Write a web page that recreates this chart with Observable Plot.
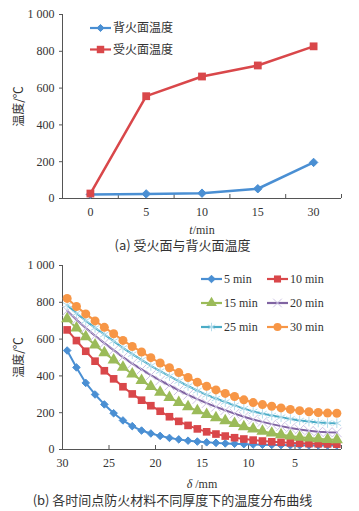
<!DOCTYPE html>
<html><head><meta charset="utf-8">
<script src="https://cdn.jsdelivr.net/npm/d3@7"></script>
<script src="https://cdn.jsdelivr.net/npm/@observablehq/plot@0.6"></script>
<style>
body{margin:0;background:#fff;}
#wrap{position:relative;width:359px;height:511px;overflow:hidden;background:#fff;}
.cap{font-family:"Noto Sans CJK SC";font-size:13px;color:#333;height:17px;line-height:17px;white-space:nowrap;text-align:center;}
#legend{position:absolute;left:0;top:0;pointer-events:none;}
svg{display:block;}
</style></head><body>
<div id="wrap">
<div id="a"></div>
<div class="cap" style="padding-left:6px">(a) 受火面与背火面温度</div>
<div id="b"></div>
<div class="cap" style="padding-right:14px">(b) 各时间点防火材料不同厚度下的温度分布曲线</div>
<svg id="legend" width="359" height="511"></svg>
</div>
<script>
// ---------- chart (a) data ----------
const tLabels = ["0", "5", "10", "15", "30"];
const backFace = [22, 25, 29, 53, 196];      // 背火面温度
const fireFace = [27, 556, 663, 723, 827];   // 受火面温度
const yTicks = [0, 200, 400, 600, 800, 1000];

// ---------- chart (b) data ----------
const delta = [29.5, 28.5, 27.5, 26.5, 25.5, 24.5, 23.5, 22.5, 21.5, 20.5,
               19.5, 18.5, 17.5, 16.5, 15.5, 14.5, 13.5, 12.5, 11.5, 10.5,
               9.5, 8.5, 7.5, 6.5, 5.5, 4.5, 3.5, 2.5, 1.5, 0.5];
const deltaTicks = [30, 25, 20, 15, 10, 5];
const deltaTickMarks = [30, 25, 20, 15, 10, 5, 0];
const min5  = [538, 446, 362, 299, 245, 197, 158, 127, 103, 87, 74, 63, 55, 48, 43, 39, 36, 33, 31, 29, 27, 26, 25, 24, 23, 23, 22, 22, 22, 22];
const min10 = [650, 592, 534, 480, 428, 384, 341, 302, 268, 238, 208, 178, 153, 131, 112, 96, 84, 73, 64, 57, 51, 46, 42, 39, 36, 34, 32, 31, 30, 29];
const min15 = [710, 660, 613, 568, 526, 486, 447, 410, 375, 342, 311, 282, 256, 232, 210, 190, 172, 156, 141, 124, 111, 99, 89, 80, 73, 67, 62, 58, 55, 53];
const min20 = [754, 705, 660, 618, 578, 540, 502, 467, 435, 404, 375, 348, 322, 297, 274, 252, 232, 213, 195, 178, 163, 150, 138, 127, 117, 109, 102, 97, 94, 93];
const min25 = [785, 740, 700, 661, 625, 589, 552, 518, 487, 455, 426, 399, 372, 345, 320, 297, 277, 258, 240, 222, 207, 195, 185, 176, 166, 158, 152, 147, 144, 143];
const min30 = [821, 777, 737, 699, 664, 629, 593, 560, 530, 499, 470, 444, 418, 391, 366, 344, 324, 305, 288, 270, 255, 244, 235, 226, 218, 211, 205, 201, 198, 197];
const seriesNames = ["5 min", "10 min", "15 min", "20 min", "25 min", "30 min"];

const BLUE = "#4a8fd3", RED = "#d9474a", GREEN = "#9bbb59", PURPLE = "#8064a2", CYAN = "#4bacc6", ORANGE = "#f79646";
const AXIS = "#555";
const fmtY = d => d === 1000 ? "1 000" : String(d);

const styleSvg = {fontFamily: "'Liberation Serif', 'Times New Roman', serif", fontSize: "12px", color: "#333", background: "transparent", overflow: "visible"};

// ---------- chart (a) ----------
const idx = tLabels.map((_, i) => i);
const bounds = [-0.5, 0.5, 1.5, 2.5, 3.5, 4.5];
const chartA = Plot.plot({
  width: 359, height: 236,
  marginLeft: 62, marginRight: 18, marginTop: 14, marginBottom: 38,
  style: styleSvg,
  x: {domain: [-0.5, 4.5], axis: null},
  y: {domain: [0, 1000], axis: null},
  marks: [
    Plot.ruleY([0], {stroke: AXIS, strokeWidth: 1}),
    Plot.ruleX([-0.5], {stroke: AXIS, strokeWidth: 1}),
    Plot.ruleX(bounds, {x: d => d, y1: 0, y2: 0, insetTop: -4, stroke: AXIS}),
    Plot.axisX({ticks: idx, tickFormat: i => tLabels[i], tickSize: 0, tickPadding: 9,
                label: "t/min", labelAnchor: "center", labelOffset: 35, labelArrow: "none"}),
    Plot.axisY({ticks: yTicks, tickFormat: fmtY, tickSize: 3, tickPadding: 5, stroke: AXIS,
                label: "温度/℃", labelAnchor: "center", labelOffset: 48, labelArrow: "none"}),
    Plot.line(backFace, {x: (d, i) => i, y: d => d, stroke: BLUE, strokeWidth: 2.5}),
    Plot.dot(backFace, {x: (d, i) => i, y: d => d, symbol: "diamond2", r: 3.8, fill: BLUE, stroke: BLUE, strokeWidth: 1}),
    Plot.line(fireFace, {x: (d, i) => i, y: d => d, stroke: RED, strokeWidth: 2.5}),
    Plot.dot(fireFace, {x: (d, i) => i, y: d => d, symbol: "square", r: 4.4, fill: RED, stroke: "none"})
  ]
});
document.getElementById("a").append(chartA);

// ---------- chart (b) ----------
const seriesB = [
  {vals: min5,  color: BLUE,   sym: "diamond2", r: 3.4, fill: BLUE,   stroke: BLUE},
  {vals: min10, color: RED,    sym: "square",   r: 4.3, fill: RED,    stroke: "none"},
  {vals: min15, color: GREEN,  sym: "triangle", r: 4.5, fill: GREEN,  stroke: "none"},
  {vals: min20, color: PURPLE, sym: "times",    r: 4.4, fill: "none", stroke: "#cdc3e4"},
  {vals: min25, color: CYAN,   sym: "asterisk", r: 4.6, fill: "none", stroke: "#b3dcec"},
  {vals: min30, color: ORANGE, sym: "circle",   r: 4.5, fill: ORANGE, stroke: "none"}
];
const marksB = [
  Plot.ruleY([0], {stroke: AXIS, strokeWidth: 1}),
  Plot.ruleX([30], {stroke: AXIS, strokeWidth: 1}),
  Plot.ruleX(deltaTickMarks, {x: d => d, y1: 0, y2: 0, insetTop: -4, stroke: AXIS}),
  Plot.axisX({ticks: deltaTicks, tickSize: 0, tickPadding: 9,
              label: "δ /mm", labelAnchor: "center", labelOffset: 38, labelArrow: "none"}),
  Plot.axisY({ticks: yTicks, tickFormat: fmtY, tickSize: 3, tickPadding: 5, stroke: AXIS,
              label: "温度/℃", labelAnchor: "center", labelOffset: 48, labelArrow: "none"})
];
for (const s of seriesB) {
  marksB.push(Plot.line(s.vals, {x: (d, i) => delta[i], y: d => d, stroke: s.color, strokeWidth: 2}));
  marksB.push(Plot.dot(s.vals, {x: (d, i) => delta[i], y: d => d, symbol: s.sym, r: s.r, fill: s.fill, stroke: s.stroke, strokeWidth: 1}));
}
const chartB = Plot.plot({
  width: 359, height: 238,
  marginLeft: 62, marginRight: 18, marginTop: 12, marginBottom: 42,
  style: styleSvg,
  x: {domain: [30, 0], axis: null},
  y: {domain: [0, 1000], axis: null},
  marks: marksB
});
document.getElementById("b").append(chartB);

// ---------- label styling ----------
function fixLabels(svg, italic, rest) {
  const sv = d3.select(svg);
  const xl = sv.select('g[aria-label="x-axis label"] text');
  xl.text(null);
  xl.append("tspan").attr("font-style", "italic").text(italic);
  xl.append("tspan").text(rest);
  sv.select('g[aria-label="y-axis label"] text').attr("font-family", "Noto Sans CJK SC").attr("font-size", 12);
  sv.selectAll('g[aria-label="y-axis tick"] path').attr("stroke", AXIS);
}
fixLabels(chartA, "t", "/min");
fixLabels(chartB, "δ", " /mm");

// ---------- legends ----------
const leg = d3.select("#legend");
const symMap = {diamond2: d3.symbolDiamond2, square: d3.symbolSquare, triangle: d3.symbolTriangle, times: d3.symbolTimes, asterisk: d3.symbolAsterisk, circle: d3.symbolCircle};
function legendItem(x, y, color, sym, r, fill, stroke, label, font) {
  const g = leg.append("g").attr("transform", `translate(${x},${y})`);
  g.append("line").attr("x1", 0).attr("x2", 21).attr("y1", 0).attr("y2", 0).attr("stroke", color).attr("stroke-width", 2.2);
  g.append("path").attr("transform", "translate(10.5,0)")
    .attr("d", d3.symbol(symMap[sym], Math.PI * r * r)())
    .attr("fill", fill).attr("stroke", stroke).attr("stroke-width", 1);
  g.append("text").attr("x", 23).attr("y", 0).attr("dy", "0.35em")
    .attr("font-family", font).attr("font-size", 12).attr("fill", "#333").text(label);
}
legendItem(90, 28, BLUE, "diamond2", 3.2, BLUE, BLUE, "背火面温度", "Noto Sans CJK SC");
legendItem(90, 49.5, RED, "square", 4.2, RED, "none", "受火面温度", "Noto Sans CJK SC");
const legPos = [[201, 279], [267, 279], [201, 303], [267, 303], [201, 327], [267, 327]];
seriesB.forEach((s, k) => {
  const [lx, ly] = legPos[k];
  legendItem(lx, ly, s.color, s.sym, Math.min(s.r, 4), s.fill, s.stroke, seriesNames[k], "'Liberation Serif', serif");
});
</script>
</body></html>
